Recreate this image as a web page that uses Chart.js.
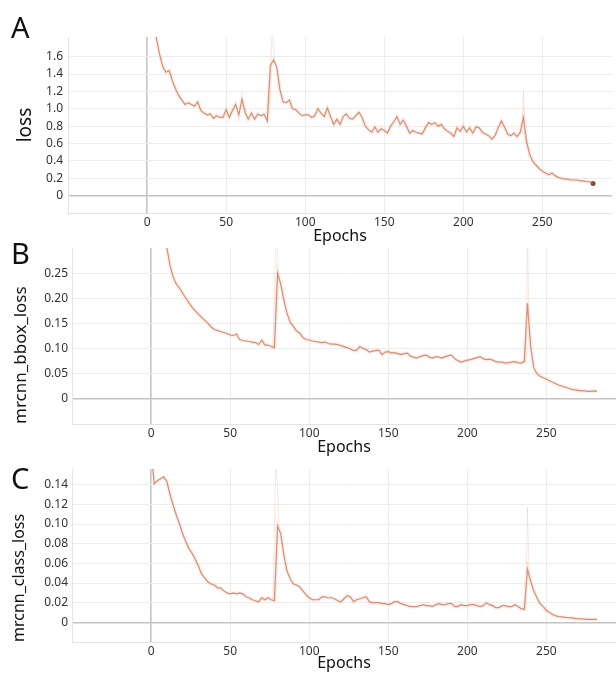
<!DOCTYPE html>
<html>
<head>
<meta charset="utf-8">
<script src="https://cdn.jsdelivr.net/npm/chart.js@4.4.1/dist/chart.umd.min.js"></script>
<style>
  body { margin: 0; background: #fff; }
  #wrap { position: relative; width: 616px; height: 673px; overflow: hidden; font-family: 'Noto Sans', sans-serif; }
  canvas { position: absolute; left: 0; }
  .tag { position: absolute; left: 11px; font-size: 29px; line-height: 29px; color: #111; }
</style>
</head>
<body>
<div id="wrap">
  <canvas id="pA" width="616" height="246" style="top:0px"></canvas>
  <canvas id="pB" width="616" height="247" style="top:210px"></canvas>
  <canvas id="pC" width="616" height="243" style="top:430px"></canvas>
  <div class="tag" style="top:12px">A</div>
  <div class="tag" style="top:238px">B</div>
  <div class="tag" style="top:463px">C</div>
</div>
<script>
// smoothed curves, one value every 2 epochs (0, 2, ... 282)
const LOSS = [
  2.60, 2.30, 2.05, 1.80, 1.62, 1.48, 1.42, 1.44, 1.32, 1.23,
  1.15, 1.10, 1.05, 1.07, 1.05, 1.03, 1.08, 0.98, 0.95, 0.93,
  0.94, 0.89, 0.92, 0.90, 0.90, 0.99, 0.90, 0.98, 1.05, 0.93,
  1.11, 0.96, 0.88, 0.95, 0.88, 0.94, 0.92, 0.94, 0.86, 1.50,
  1.56, 1.48, 1.22, 1.08, 1.07, 1.10, 1.00, 0.99, 0.95, 0.92,
  0.93, 0.93, 0.90, 0.92, 1.00, 0.95, 0.91, 1.01, 0.91, 0.82,
  0.88, 0.82, 0.91, 0.94, 0.89, 0.88, 0.92, 0.96, 0.90, 0.80,
  0.76, 0.73, 0.79, 0.73, 0.77, 0.75, 0.72, 0.80, 0.85, 0.91,
  0.82, 0.87, 0.80, 0.72, 0.75, 0.73, 0.72, 0.71, 0.78, 0.84,
  0.82, 0.84, 0.80, 0.82, 0.77, 0.74, 0.72, 0.68, 0.78, 0.74,
  0.80, 0.73, 0.78, 0.72, 0.79, 0.78, 0.73, 0.71, 0.69, 0.65,
  0.69, 0.78, 0.86, 0.79, 0.71, 0.69, 0.72, 0.68, 0.73, 0.90,
  0.62, 0.47, 0.39, 0.35, 0.31, 0.28, 0.26, 0.24, 0.26, 0.23,
  0.21, 0.20, 0.19, 0.19, 0.18, 0.18, 0.18, 0.17, 0.17, 0.16,
  0.16, 0.14
];
const BBOX_LOSS = [
  0.60, 0.50, 0.42, 0.37, 0.33, 0.30, 0.265, 0.242, 0.228, 0.220,
  0.210, 0.200, 0.191, 0.182, 0.175, 0.168, 0.162, 0.156, 0.150, 0.143,
  0.138, 0.136, 0.134, 0.132, 0.130, 0.127, 0.126, 0.129, 0.118, 0.116,
  0.115, 0.114, 0.113, 0.112, 0.108, 0.117, 0.107, 0.107, 0.104, 0.102,
  0.250, 0.228, 0.196, 0.170, 0.152, 0.144, 0.135, 0.131, 0.122, 0.118,
  0.117, 0.115, 0.114, 0.113, 0.112, 0.113, 0.110, 0.109, 0.109, 0.108,
  0.106, 0.104, 0.102, 0.099, 0.096, 0.097, 0.104, 0.100, 0.098, 0.093,
  0.095, 0.096, 0.097, 0.088, 0.093, 0.094, 0.091, 0.092, 0.090, 0.088,
  0.090, 0.091, 0.085, 0.083, 0.081, 0.084, 0.086, 0.087, 0.083, 0.081,
  0.084, 0.083, 0.081, 0.084, 0.086, 0.087, 0.080, 0.076, 0.073, 0.075,
  0.077, 0.078, 0.080, 0.082, 0.084, 0.080, 0.078, 0.079, 0.077, 0.074,
  0.073, 0.073, 0.071, 0.072, 0.073, 0.074, 0.072, 0.071, 0.074, 0.190,
  0.105, 0.062, 0.050, 0.045, 0.042, 0.039, 0.036, 0.033, 0.030, 0.027,
  0.025, 0.023, 0.021, 0.019, 0.018, 0.017, 0.016, 0.016, 0.015, 0.015,
  0.016, 0.015
];
const CLASS_LOSS = [
  0.175, 0.141, 0.144, 0.146, 0.148, 0.143, 0.130, 0.119, 0.109, 0.100,
  0.090, 0.082, 0.075, 0.070, 0.064, 0.057, 0.049, 0.045, 0.041, 0.039,
  0.038, 0.035, 0.035, 0.032, 0.030, 0.029, 0.030, 0.029, 0.030, 0.029,
  0.026, 0.025, 0.023, 0.022, 0.021, 0.025, 0.023, 0.025, 0.023, 0.022,
  0.098, 0.090, 0.068, 0.052, 0.044, 0.039, 0.038, 0.036, 0.032, 0.028,
  0.025, 0.023, 0.023, 0.023, 0.026, 0.026, 0.025, 0.025, 0.024, 0.022,
  0.021, 0.024, 0.027, 0.026, 0.021, 0.023, 0.024, 0.025, 0.026, 0.021,
  0.020, 0.020, 0.020, 0.019, 0.019, 0.018, 0.019, 0.021, 0.021, 0.019,
  0.018, 0.017, 0.016, 0.016, 0.016, 0.017, 0.018, 0.017, 0.017, 0.016,
  0.018, 0.019, 0.018, 0.018, 0.019, 0.019, 0.016, 0.016, 0.018, 0.017,
  0.017, 0.018, 0.018, 0.017, 0.016, 0.017, 0.020, 0.018, 0.017, 0.015,
  0.015, 0.017, 0.017, 0.016, 0.016, 0.018, 0.016, 0.014, 0.013, 0.054,
  0.042, 0.032, 0.025, 0.019, 0.016, 0.012, 0.010, 0.008, 0.0065, 0.0058,
  0.0055, 0.005, 0.0047, 0.0045, 0.004, 0.0037, 0.0035, 0.0033, 0.003, 0.003,
  0.003, 0.003
];
const EPOCHS = LOSS.map((_, i) => i * 2);

// faint raw values around the two spikes (null breaks the line)
const RAW_EPOCHS = [77, 79, 81, 160, 237, 238, 239];
const LOSS_RAW = [0.85, 1.90, 1.50, null, 0.70, 1.21, 0.60];
const BBOX_RAW = [0.100, 0.340, 0.230, null, 0.070, 0.340, 0.120];
const CLASS_RAW = [0.022, 0.170, 0.095, null, 0.013, 0.117, 0.050];

const X_TICKS = [0, 50, 100, 150, 200, 250];
const LOSS_TICKS = [0, 0.2, 0.4, 0.6, 0.8, 1.0, 1.2, 1.4, 1.6];
const BBOX_TICKS = [0, 0.05, 0.10, 0.15, 0.20, 0.25];
const CLASS_TICKS = [0, 0.02, 0.04, 0.06, 0.08, 0.10, 0.12, 0.14];

const LINE = 'rgb(206,134,108)';
const tickFont = { family: "'Noto Sans', sans-serif", size: 12 };
const gridColor = ctx => (ctx.tick && ctx.tick.value === 0) ? '#c4c4c4' : '#ededed';
const gridWidth = ctx => (ctx.tick && ctx.tick.value === 0) ? 1.6 : 1;

function panel(id, p) {
  const pts = p.values.map((v, i) => ({ x: EPOCHS[i], y: v }));
  const raw = p.raw.map((v, i) => ({ x: RAW_EPOCHS[i], y: v }));
  const last = pts.length - 1;
  new Chart(document.getElementById(id), {
    type: 'line',
    data: {
      datasets: [
        { data: raw, borderColor: 'rgba(238,170,145,0.28)', borderWidth: 1, pointRadius: 0, spanGaps: false },
        { data: pts, borderColor: 'rgba(236,175,150,0.2)', borderWidth: 4, pointRadius: 0 },
        {
          data: pts, borderColor: LINE, borderWidth: 1.2,
          pointRadius: ctx => (p.endDot && ctx.dataIndex === last) ? 2.5 : 0,
          pointBackgroundColor: '#7a4a3a', pointBorderWidth: 0
        }
      ]
    },
    options: {
      responsive: false,
      animation: false,
      devicePixelRatio: 1,
      layout: { padding: { top: p.top, right: 0, left: 0, bottom: 0 } },
      plugins: { legend: { display: false }, tooltip: { enabled: false } },
      scales: {
        x: {
          type: 'linear', min: -50, max: 294,
          afterBuildTicks: s => { s.ticks = X_TICKS.map(v => ({ value: v })); },
          afterFit: s => { s.height = p.xh; },
          grid: { color: gridColor, lineWidth: gridWidth, drawTicks: false },
          border: { color: '#e4e4e4' },
          ticks: { font: tickFont, color: '#333', padding: 2, maxRotation: 0 },
          title: { display: true, text: 'Epochs', color: '#111',
                   font: { family: "'Noto Sans', sans-serif", size: 16 },
                   padding: { top: 0, bottom: 0 } }
        },
        y: {
          min: p.min, max: p.max,
          afterBuildTicks: s => { s.ticks = p.ticks.map(v => ({ value: v })); },
          afterFit: s => { s.width = p.yw; },
          grid: { color: gridColor, lineWidth: gridWidth, drawTicks: false },
          border: { color: '#e4e4e4' },
          ticks: { font: tickFont, color: '#333', padding: p.yw - p.labelRight,
                   callback: v => v === 0 ? '0' : v.toFixed(p.dec) },
          title: { display: true, text: p.title, color: '#111', align: p.align,
                   font: { family: "'Noto Sans', sans-serif", size: p.tsize },
                   padding: { top: p.tpad, bottom: 0 } }
        }
      }
    }
  });
}

panel('pA', { values: LOSS, raw: LOSS_RAW, ticks: LOSS_TICKS, min: -0.2, max: 1.826, dec: 1,
  top: 37, xh: 33, yw: 68, labelRight: 63, title: 'loss', tsize: 19, tpad: 14, align: 'center', endDot: true });
panel('pB', { values: BBOX_LOSS, raw: BBOX_RAW, ticks: BBOX_TICKS, min: -0.05, max: 0.30, dec: 2,
  top: 38, xh: 33, yw: 72, labelRight: 68, title: 'mrcnn_bbox_loss', tsize: 17, tpad: 11, align: 'start' });
panel('pC', { values: CLASS_LOSS, raw: CLASS_RAW, ticks: CLASS_TICKS, min: -0.02, max: 0.156, dec: 2,
  top: 39, xh: 31, yw: 72, labelRight: 68, title: 'mrcnn_class_loss', tsize: 16, tpad: 10, align: 'start' });
</script>
</body>
</html>
